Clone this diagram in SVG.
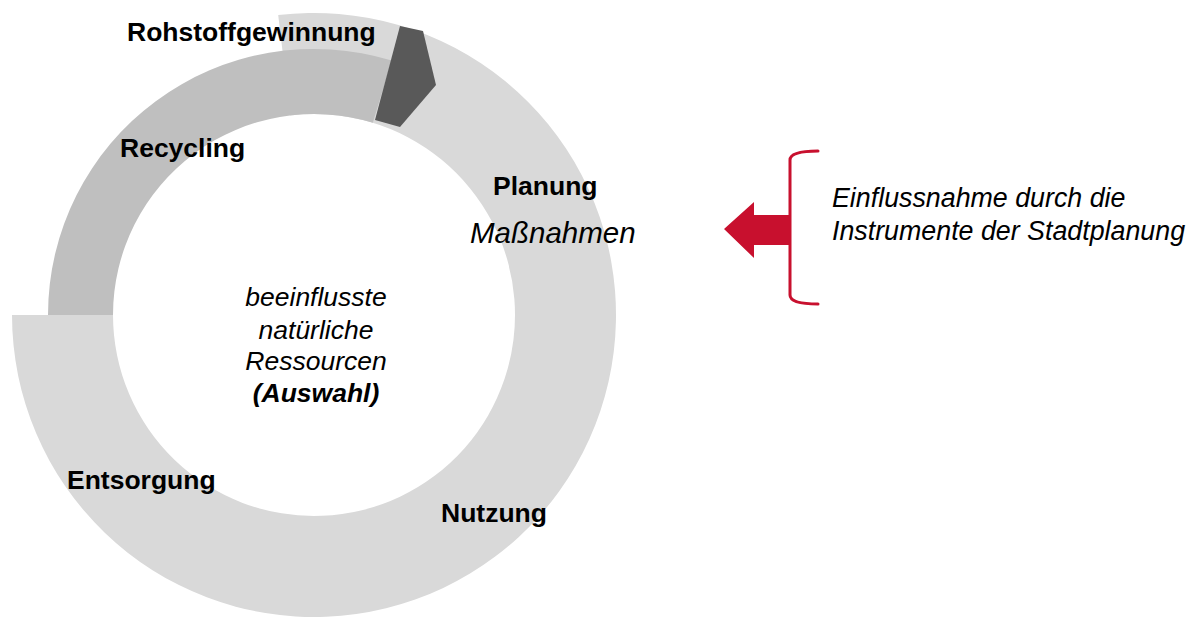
<svg xmlns="http://www.w3.org/2000/svg" width="1190" height="617" viewBox="0 0 1190 617">
  <style>
    text { font-family: "Liberation Sans", Arial, sans-serif; fill: #000; }
    .stage { font-size: 26.5px; font-weight: bold; }
    .it { font-style: italic; }
    .core { font-size: 26.5px; font-style: italic; text-anchor: middle; }
    .note { font-size: 26.8px; font-style: italic; }
    .ring-light { fill: #d9d9d9; }
    .ring-mid { fill: #bfbfbf; }
    .ring-dark { fill: #595959; }
    .red { fill: #c8102e; }
    .red-line { fill: none; stroke: #c8102e; stroke-width: 3; stroke-linecap: round; stroke-linejoin: round; }
  </style>

  <!-- outer light ring: Rohstoffgewinnung, Planung, Nutzung, Entsorgung -->
  <g id="ring-main">
    <path class="ring-light" d="M 278.2 15.1 A 302 302 0 1 1 12 315 L 113 315 A 201 201 0 1 0 290.2 115.4 Z"/>
  </g>

  <!-- recycling arc, narrower band -->
  <g id="ring-recycling">
    <path class="ring-mid" d="M 48 315 A 266 266 0 0 1 391.8 60.6 L 372.8 122.8 A 201 201 0 0 0 113 315 Z"/>
  </g>

  <!-- dark marker at the start of the cycle -->
  <g id="ring-marker">
    <polygon class="ring-dark" points="400,26 423,31 436,85 400,127 375,120"/>
  </g>

  <g id="label-rohstoff"><text class="stage" x="127" y="41">Rohstoffgewinnung</text></g>
  <g id="label-recycling"><text class="stage" x="120" y="157">Recycling</text></g>
  <g id="label-planung">
    <text class="stage" x="493" y="195">Planung</text>
    <text class="it" x="470" y="243" font-size="29.5">Maßnahmen</text>
  </g>
  <g id="label-entsorgung"><text class="stage" x="67" y="489">Entsorgung</text></g>
  <g id="label-nutzung"><text class="stage" x="441" y="522">Nutzung</text></g>

  <g id="center">
    <text class="core" x="316" y="306">beeinflusste</text>
    <text class="core" x="316" y="339">natürliche</text>
    <text class="core" x="316" y="370">Ressourcen</text>
    <text class="core" x="316" y="402" font-weight="bold">(Auswahl)</text>
  </g>

  <g id="note">
    <text class="note" x="832" y="207">Einflussnahme durch die</text>
    <text class="note" x="832" y="240">Instrumente der Stadtplanung</text>
  </g>

  <!-- influence arrow with bracket -->
  <g id="connectors">
    <path class="red-line" d="M 818 151 Q 790 151 790 160 L 790 295 Q 790 304 818 304"/>
    <polygon class="red" points="724,229 754,202 754,215 790,215 790,245 754,245 754,258"/>
  </g>
</svg>
